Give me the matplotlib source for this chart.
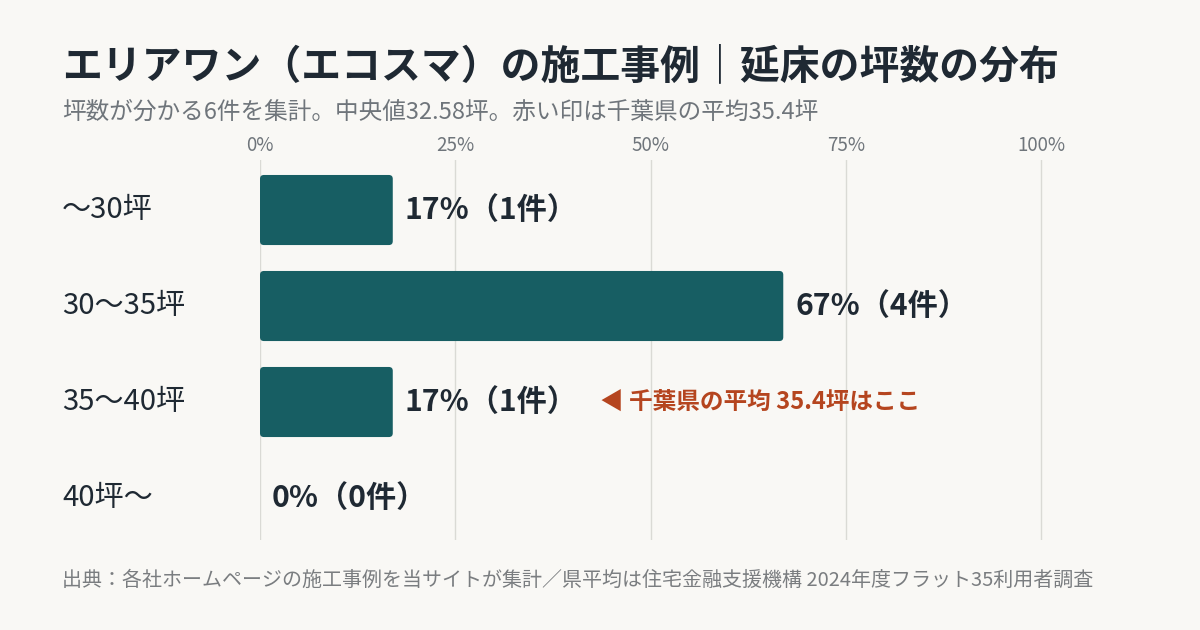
import matplotlib
matplotlib.use("Agg")
from matplotlib import pyplot as plt
from matplotlib.patches import FancyBboxPatch

plt.rcParams['font.family'] = ['Noto Sans CJK JP', 'DejaVu Sans']

# data
categories = ['〜30坪', '30〜35坪', '35〜40坪', '40坪〜']
counts = [1, 4, 1, 0]
total = 6
pct = [round(c / total * 100) for c in counts]   # 17, 67, 17, 0
ticks = [0, 0.25, 0.5, 0.75, 1.0]
tick_labels = ['0%', '25%', '50%', '75%', '100%']
pref_avg = 35.4
pref_row = 2

title = 'エリアワン（エコスマ）の施工事例｜延床の坪数の分布'
subtitle = '坪数が分かる6件を集計。中央値32.58坪。赤い印は千葉県の平均35.4坪'
source = '出典：各社ホームページの施工事例を当サイトが集計／県平均は住宅金融支援機構 2024年度フラット35利用者調査'

bg = '#F9F8F5'
bar_color = '#175E63'
dark = '#1F2933'
gray = '#6F757B'
red = '#B5451F'

fig = plt.figure(figsize=(12, 6.3), dpi=100, facecolor=bg)
xmax = 1.005
ax = fig.add_axes([260 / 1200, 1 - 540 / 630, 781 * xmax / 1200, 380 / 630])
ax.set_facecolor(bg)

y = list(range(len(categories)))
shares = [p / 100 for p in pct]
bars = ax.barh(y, shares, height=0.73, color='none')

# rounded bars
for b in bars:
    if b.get_width() <= 0:
        continue
    fb = FancyBboxPatch((b.get_x(), b.get_y()), b.get_width(), b.get_height(),
                        boxstyle='round,pad=0,rounding_size=0.005',
                        mutation_aspect=8.0, facecolor=bar_color,
                        edgecolor='none', zorder=3)
    ax.add_patch(fb)

ax.set_xlim(0, xmax)
ax.set_ylim(3.4375, -0.521)

ax.set_xticks(ticks)
ax.set_xticklabels(tick_labels)
ax.xaxis.tick_top()
ax.tick_params(axis='x', length=0, pad=3, labelsize=13.5, labelcolor=gray)
ax.set_yticks([])
ax.grid(axis='x', color='#DADAD5', linewidth=1, zorder=0)
for s in ax.spines.values():
    s.set_visible(False)

# category labels
for i, cat in enumerate(categories):
    ax.text(-198 / 781, i, cat, fontsize=21, color=dark, va='center', ha='left')

# value labels
for i, (s, p, c) in enumerate(zip(shares, pct, counts)):
    ax.annotate(f'{p}%（{c}件）', xy=(s, i), xytext=(8.5, 0),
                textcoords='offset points', fontsize=21.7, fontweight='bold',
                color=dark, va='center', ha='left')

# prefecture average marker
ax.text(0.435, pref_row, f'◀ 千葉県の平均 {pref_avg}坪はここ', fontsize=17,
        fontweight='bold', color=red, va='center', ha='left')

fig.text(62 / 1200, 1 - 67 / 630, title, fontsize=28.7, fontweight='bold',
         color=dark, va='center', ha='left')
fig.text(62 / 1200, 1 - 112 / 630, subtitle, fontsize=17, color=gray,
         va='center', ha='left')
fig.text(62 / 1200, 1 - 580 / 630, source, fontsize=14.4, color='#7A7D80',
         va='center', ha='left')

fig.savefig('out.png', dpi=100, facecolor=bg)
